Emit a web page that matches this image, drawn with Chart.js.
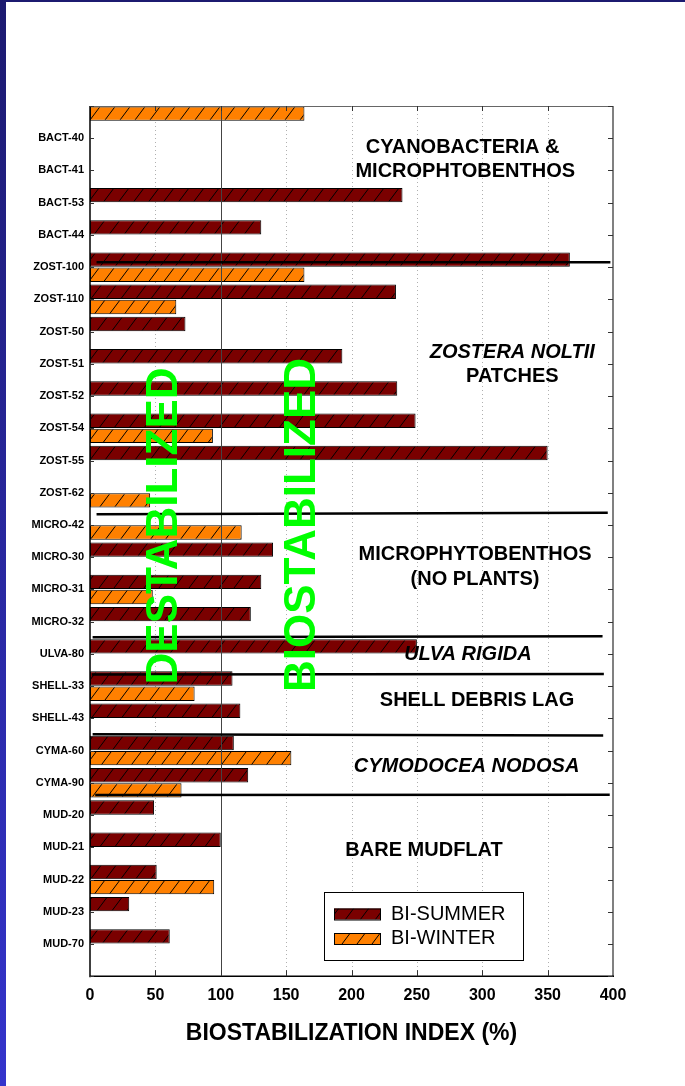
<!DOCTYPE html>
<html>
<head>
<meta charset="utf-8">
<script src="https://cdn.jsdelivr.net/npm/chart.js@4.4.0/dist/chart.umd.min.js"></script>
<style>
body { margin: 0; background: #fff; }
#wrap { position: relative; width: 685px; height: 1086px; }
#myChart { display: block; }
#side { position: absolute; left: 0; top: 0; width: 6px; height: 1086px; background: linear-gradient(#1c1a70, #3434cc); }
#topband { position: absolute; left: 0; top: 0; width: 685px; height: 2px; background: #1c1a70; }
</style>
</head>
<body>
<div id="wrap">
<canvas id="myChart" width="685" height="1086"></canvas>
<div id="side"></div><div id="topband"></div>
</div>
<script>
// Sites, top to bottom (blank rows at both ends of the axis)
const sites = ["", "BACT-40", "BACT-41", "BACT-53", "BACT-44", "ZOST-100", "ZOST-110", "ZOST-50",
	"ZOST-51", "ZOST-52", "ZOST-54", "ZOST-55", "ZOST-62", "MICRO-42", "MICRO-30", "MICRO-31",
	"MICRO-32", "ULVA-80", "SHELL-33", "SHELL-43", "CYMA-60", "CYMA-90", "MUD-20", "MUD-21",
	"MUD-22", "MUD-23", "MUD-70", ""];

// Biostabilization index (%)
const summer = [null, null, null, 239, 131, 367, 234, 73, 193, 235, 249, 350, null, null, 140, 131,
	123, 250, 109, 115, 110, 121, 49, 100, 51, 30, 61, null];
const winter = [164, null, null, null, null, 164, 66, null, null, null, 94, null, 46, 116, null, 48,
	null, null, 80, null, 154, 70, null, null, 95, null, null, null];

const seriesNames = ["BI-SUMMER", "BI-WINTER"];
const seriesColors = ["#7a0000", "#ff8000"];

// Habitat separators: [x1, row1, x2, row2] in data units
const separators = [
	[5, 4.85, 398, 4.85],
	[5, 12.67, 396, 12.62],
	[2, 16.48, 392, 16.45],
	[1.5, 17.64, 393, 17.62],
	[2, 19.49, 392.5, 19.53],
	[4, 21.38, 397.5, 21.37]
];

// Habitat names: [text, x, row, italic]
const notes = [
	["CYANOBACTERIA &", 285, 1.27, false],
	["MICROPHTOBENTHOS", 287, 1.99, false],
	["ZOSTERA NOLTII", 323, 7.63, true],
	["PATCHES", 323, 8.35, false],
	["MICROPHYTOBENTHOS", 294.5, 13.87, false],
	["(NO PLANTS)", 294.5, 14.65, false],
	["ULVA RIGIDA", 289, 16.98, true],
	["SHELL DEBRIS LAG", 296, 18.40, false],
	["CYMODOCEA NODOSA", 288, 20.45, true],
	["BARE MUDFLAT", 255.5, 23.06, false]
];

// Big vertical labels either side of the 100% line
const zones = [["DESTABILIZED", 55.8, 13.03], ["BIOSTABILIZED", 161, 13.0]];

const FONT = "'Liberation Sans', Arial, sans-serif";
Chart.defaults.font.family = FONT;
Chart.defaults.color = "#000";

// Diagonal hatching like the original bars
function hatch(color) {
	const c = document.createElement("canvas");
	c.width = 15; c.height = 20;
	const g = c.getContext("2d");
	g.fillStyle = color;
	g.fillRect(0, 0, 15, 20);
	g.strokeStyle = "#000";
	g.lineWidth = 1;
	for (let k = -1; k <= 1; k++) {
		g.beginPath();
		g.moveTo(k * 15, 20);
		g.lineTo(k * 15 + 15, 0);
		g.stroke();
	}
	return g.createPattern(c, "repeat");
}

function line(ctx, x1, y1, x2, y2) {
	ctx.beginPath();
	ctx.moveTo(x1, y1);
	ctx.lineTo(x2, y2);
	ctx.stroke();
}

const frame = {
	id: "frame",
	beforeDatasetsDraw(chart) {
		const { ctx, chartArea: a, scales: { x } } = chart;
		ctx.save();
		ctx.strokeStyle = "#b0b0b0";
		ctx.lineWidth = 1;
		ctx.setLineDash([1, 3]);
		x.ticks.forEach(t => {
			if (t.value <= 0 || t.value >= 400 || t.value === 100) return;
			const px = Math.round(x.getPixelForValue(t.value)) + 0.5;
			line(ctx, px, a.top, px, a.bottom);
		});
		ctx.restore();
	},
	afterDatasetsDraw(chart) {
		const { ctx, chartArea: a, scales: { x, y } } = chart;
		ctx.save();

		// solid 100% line
		ctx.strokeStyle = "#444";
		ctx.lineWidth = 1;
		const p100 = Math.round(x.getPixelForValue(100)) + 0.5;
		line(ctx, p100, a.top, p100, a.bottom);

		// axis box
		ctx.strokeStyle = "#666";
		ctx.lineWidth = 1;
		line(ctx, a.left, a.top + 0.5, a.right, a.top + 0.5);
		ctx.lineWidth = 2;
		ctx.strokeStyle = "#808080";
		line(ctx, a.right, a.top, a.right, a.bottom);
		ctx.strokeStyle = "#000";
		ctx.lineWidth = 1.5;
		line(ctx, a.left, a.top, a.left, a.bottom + 1);
		line(ctx, a.left, a.bottom, a.right + 1, a.bottom);

		// inward tick marks
		ctx.lineWidth = 1;
		ctx.strokeStyle = "#333";
		x.ticks.forEach(t => {
			if (t.value <= 0 || t.value >= 400) return;
			const px = Math.round(x.getPixelForValue(t.value)) + 0.5;
			line(ctx, px, a.top, px, a.top + 5);
			line(ctx, px, a.bottom, px, a.bottom - 6);
		});
		sites.forEach((s, i) => {
			const py = Math.round(y.getPixelForValue(i)) + 0.5;
			line(ctx, a.left, py, a.left + 4, py);
			line(ctx, a.right, py, a.right - 5, py);
		});

		// habitat separators
		ctx.strokeStyle = "#000";
		ctx.lineWidth = 2.5;
		separators.forEach(s => {
			line(ctx, x.getPixelForValue(s[0]), y.getPixelForValue(s[1]),
				x.getPixelForValue(s[2]), y.getPixelForValue(s[3]));
		});

		// habitat names
		ctx.fillStyle = "#000";
		ctx.textAlign = "center";
		ctx.textBaseline = "middle";
		notes.forEach(n => {
			ctx.font = (n[3] ? "italic " : "") + "bold 20px " + FONT;
			ctx.fillText(n[0], x.getPixelForValue(n[1]), y.getPixelForValue(n[2]) + 1);
		});

		// green zone labels
		ctx.fillStyle = "#00ff00";
		ctx.font = "bold 44px " + FONT;
		zones.forEach(z => {
			ctx.save();
			ctx.translate(x.getPixelForValue(z[1]), y.getPixelForValue(z[2]));
			ctx.rotate(-Math.PI / 2);
			ctx.fillText(z[0], 0, 2);
			ctx.restore();
		});

		// legend box
		const lx = a.left + 234, ly = a.top + 786;
		ctx.fillStyle = "#fff";
		ctx.fillRect(lx, ly, 199, 68);
		ctx.strokeStyle = "#000";
		ctx.lineWidth = 1;
		ctx.strokeRect(lx + 0.5, ly + 0.5, 199, 68);
		ctx.textAlign = "left";
		ctx.font = "20px " + FONT;
		chart.data.datasets.forEach((ds, i) => {
			const cy = ly + 22 + i * 24.5;
			ctx.fillStyle = ds.backgroundColor;
			ctx.fillRect(lx + 10, cy - 5.5, 47, 11);
			ctx.strokeRect(lx + 10.5, cy - 5, 46, 11);
			ctx.fillStyle = "#000";
			ctx.fillText(ds.label, lx + 67, cy);
		});

		ctx.restore();
	}
};

var chart = new Chart("myChart", {
	type: "bar",
	data: {
		labels: sites,
		datasets: [{
			label: seriesNames[0],
			data: summer,
			backgroundColor: hatch(seriesColors[0]),
			borderColor: "#000",
			borderWidth: 1,
			borderSkipped: false,
			categoryPercentage: 0.94,
			barPercentage: 0.95
		}, {
			label: seriesNames[1],
			data: winter,
			backgroundColor: hatch(seriesColors[1]),
			borderColor: "#000",
			borderWidth: 1,
			borderSkipped: false,
			categoryPercentage: 0.94,
			barPercentage: 0.95
		}]
	},
	options: {
		indexAxis: "y",
		responsive: false,
		animation: false,
		layout: { padding: { top: 106, right: 72, left: 0, bottom: 0 } },
		plugins: {
			legend: { display: false },
			tooltip: { enabled: false }
		},
		scales: {
			x: {
				type: "linear",
				min: 0,
				max: 400,
				ticks: { stepSize: 50, padding: 10, font: { size: 16, weight: "bold" }, color: "#000" },
				grid: { display: false, drawTicks: false },
				border: { display: false },
				title: {
					display: true,
					text: "BIOSTABILIZATION INDEX (%)",
					color: "#000",
					font: { size: 23, weight: "bold" },
					padding: { top: 4, bottom: 39 }
				}
			},
			y: {
				type: "category",
				offset: false,
				ticks: { padding: 6, autoSkip: false, font: { size: 11, weight: "bold" }, color: "#000" },
				grid: { display: false, drawTicks: false },
				border: { display: false },
				afterFit: s => { s.width = 90; }
			}
		}
	},
	plugins: [frame]
});
</script>
</body>
</html>
